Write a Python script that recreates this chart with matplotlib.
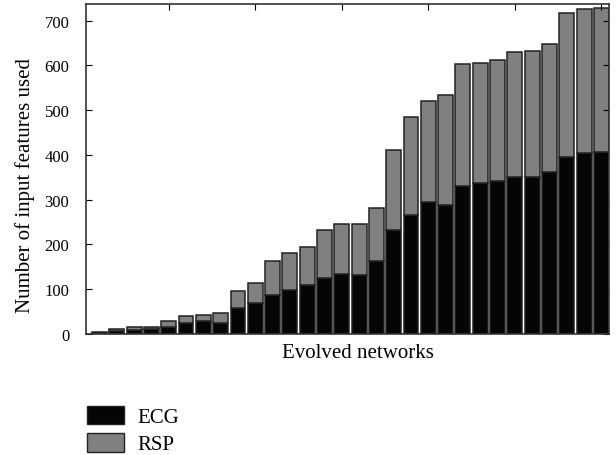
import numpy as np
import matplotlib.pyplot as plt
from matplotlib.patches import Patch

plt.rcParams['font.family'] = ['Liberation Serif', 'DejaVu Serif']

# Datos (30 redes evolucionadas)
redes = np.arange(1, 31)
total = [4, 11, 15, 16, 28, 41, 43, 46, 95, 113,
         163, 182, 195, 232, 245, 245, 281, 412, 485, 521,
         533, 602, 606, 611, 629, 633, 647, 716, 726, 729]
ecg = [3, 7, 10, 11, 15, 25, 28, 25, 57, 69,
       87, 98, 110, 125, 133, 131, 164, 233, 266, 294,
       289, 330, 338, 342, 350, 351, 362, 395, 404, 406]
rsp = [t - e for t, e in zip(total, ecg)]

fig = plt.figure(figsize=(6.16, 4.56), dpi=100)
ax = fig.add_axes([86 / 616, 1 - 335 / 456, (609 - 86) / 616, (335 - 5) / 456])

ax.bar(redes, ecg, width=0.86, color='#050505', edgecolor='#222222', linewidth=1.1)
ax.bar(redes, rsp, bottom=ecg, width=0.86, color='#808080', edgecolor='#222222', linewidth=1.1)

ax.set_xlim(0.22, 30.44)
ax.set_ylim(0, 737)
ax.set_yticks(range(0, 701, 100))
ax.set_xticks(range(5, 31, 5))
ax.set_xticklabels([])
ax.tick_params(axis='y', direction='in', right=True, labelsize=12, length=4, pad=12)
ax.tick_params(axis='x', direction='in', top=True, bottom=False, length=4)
for s in ax.spines.values():
    s.set_color('#333333')
    s.set_linewidth(1.2)

ax.set_xlabel('Evolved networks', fontsize=15, labelpad=3, x=0.52)
ax.set_ylabel('Number of input features used', fontsize=15, labelpad=7, y=0.452)

handles = [Patch(facecolor='#050505', edgecolor='#222222', label='ECG'),
           Patch(facecolor='#808080', edgecolor='#222222', label='RSP')]
fig.legend(handles=handles, loc='upper left', bbox_to_anchor=(68 / 616, 1 - 388 / 456),
           frameon=False, fontsize=15, handlelength=1.78, handleheight=1.0,
           labelspacing=0.28, handletextpad=0.67)

fig.savefig('out.png', dpi=100)
